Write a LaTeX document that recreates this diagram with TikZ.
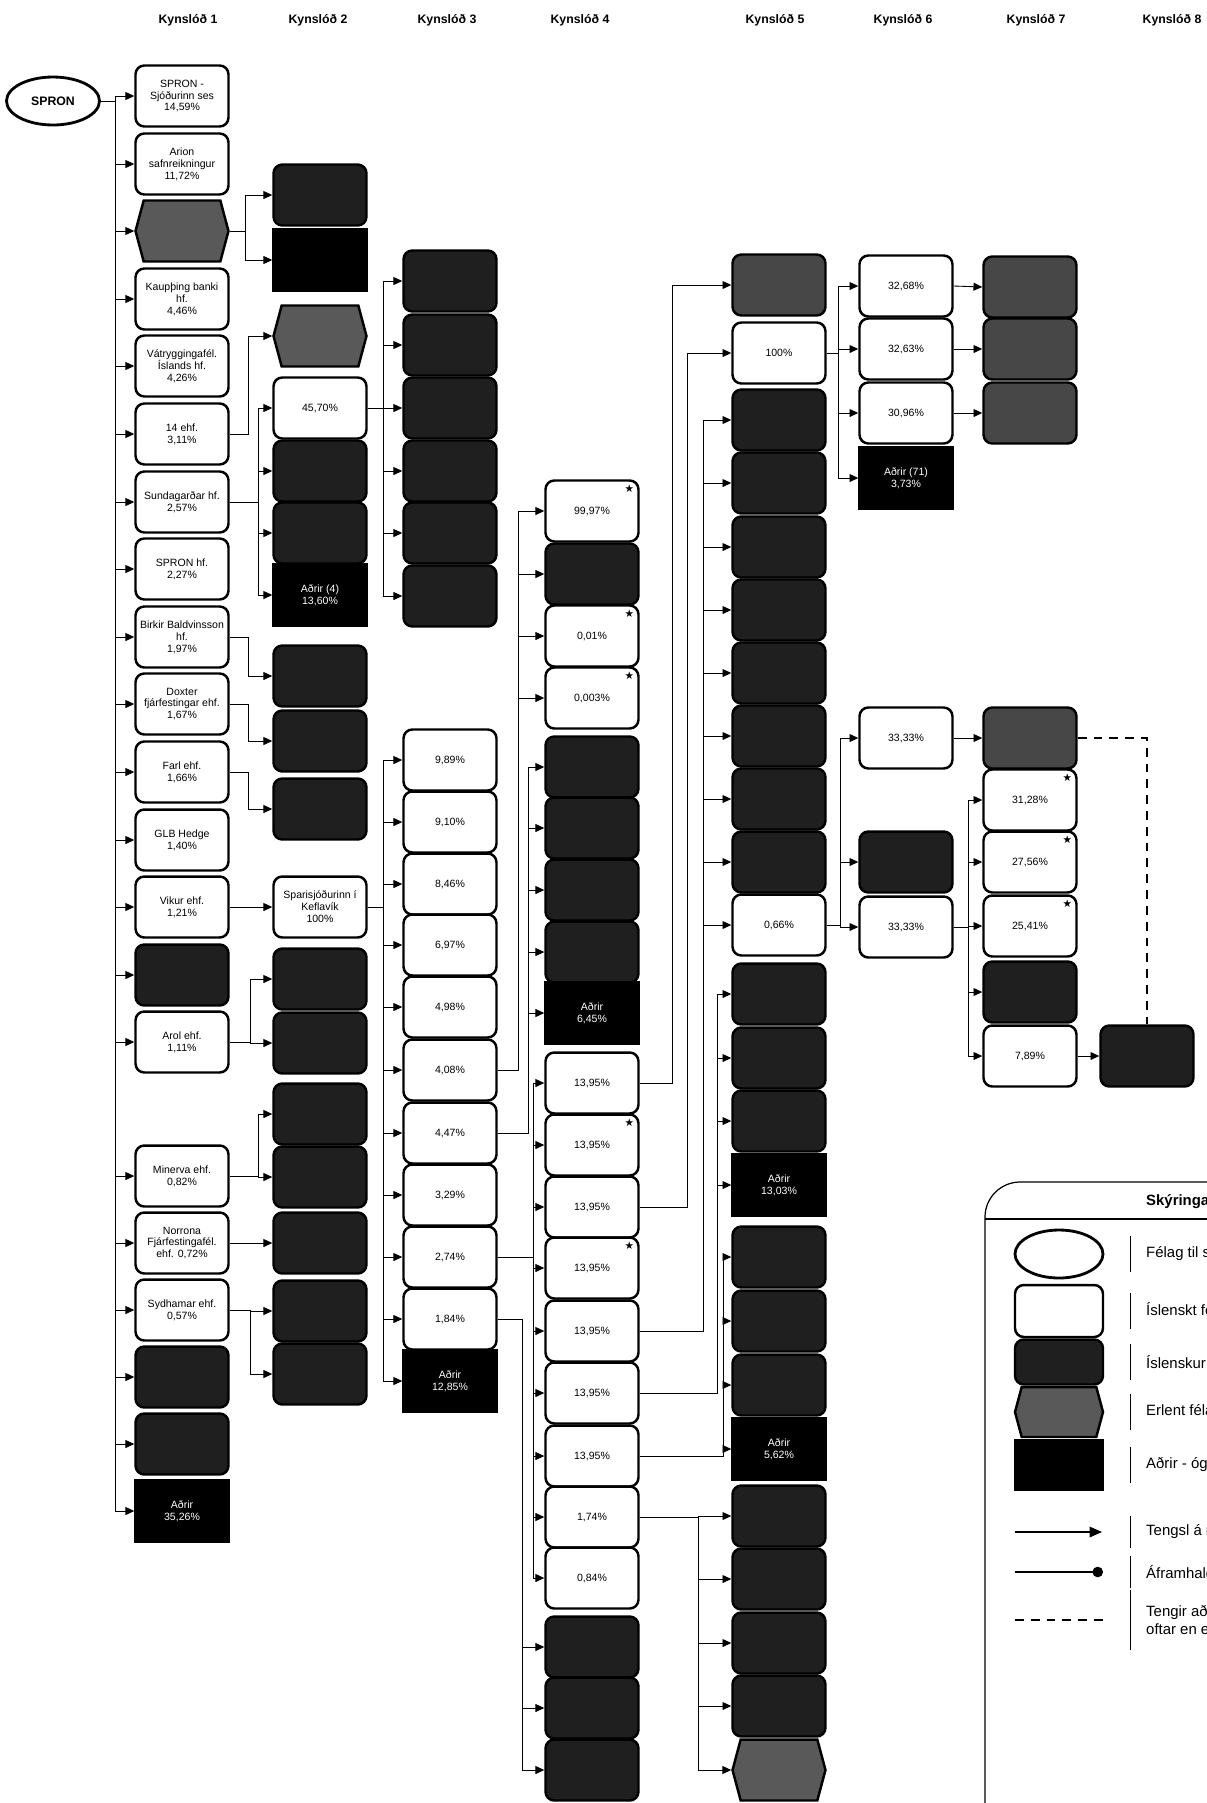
\documentclass[tikz,border=0pt]{standalone}
\usepackage{fontspec}
\setmainfont{Liberation Sans}
\newfontfamily\symfont{DejaVu Sans}
\usetikzlibrary{arrows.meta,shapes.geometric,shapes.symbols}

\begin{document}
\begin{tikzpicture}[
    x=0.02cm, y=-0.02cm,
    box/.style={minimum width=1.86cm, minimum height=1.22cm, inner sep=1pt, align=center, line width=1.4pt, font=\fontsize{6}{6.8}\selectfont},
    firm node/.style={box, draw=black, fill=white, rounded corners=5pt},
    person node/.style={box, draw=black, fill=black!88, text=white, rounded corners=5pt},
    grey node/.style={person node, fill=black!72},
    other node/.style={box, draw=black, fill=black, text=white},
    foreign node/.style={box, signal, signal to=east and west, signal pointer angle=150, draw=black, fill=black!65},
    target node/.style={ellipse, draw=black, fill=white, line width=1.6pt, minimum width=1.86cm, minimum height=0.96cm, font=\fontsize{7}{8}\selectfont\bfseries},
    head node/.style={font=\fontsize{7}{8}\selectfont\bfseries},
    starred/.style={label={[anchor=north east, xshift=-2pt, yshift=-2pt, inner sep=1pt, font=\symfont\fontsize{6}{6}\selectfont]north east:★}},
    link/.style={-{Triangle[length=5pt, width=4.5pt]}, line width=0.5pt},
    bond/.style={line width=1pt, dash pattern=on 5pt off 4pt},
    key text/.style={anchor=west, font=\fontsize{8.5}{10}\selectfont, align=left}
]
\useasboundingbox (0,0) rectangle (1207,1803);
\clip (0,0) rectangle (1207,1803);

% fyrirsagnir
\foreach \n/\x in {1/188, 2/318, 3/447, 4/580, 5/775, 6/903, 7/1036, 8/1172}
    \node[head node] (h\n) at (\x,20) {Kynslóð \n};

\node[target node] (spron) at (53,101) {SPRON};

% Kynslóð 1
\node[firm node]    (k1-1)  at (182,96)   {SPRON -\\Sjóðurinn ses\\14,59\%};
\node[firm node]    (k1-2)  at (182,164)  {Arion\\safnreikningur\\11,72\%};
\node[foreign node] (k1-3)  at (182,231)  {};
\node[firm node]    (k1-4)  at (182,299)  {Kaupþing banki\\hf.\\4,46\%};
\node[firm node]    (k1-5)  at (182,366)  {Vátryggingafél.\\Íslands hf.\\4,26\%};
\node[firm node]    (k1-6)  at (182,434)  {14 ehf.\\3,11\%};
\node[firm node]    (k1-7)  at (182,502)  {Sundagarðar hf.\\2,57\%};
\node[firm node]    (k1-8)  at (182,569)  {SPRON hf.\\2,27\%};
\node[firm node]    (k1-9)  at (182,637)  {Birkir Baldvinsson\\hf.\\1,97\%};
\node[firm node]    (k1-10) at (182,704)  {Doxter\\fjárfestingar ehf.\\1,67\%};
\node[firm node]    (k1-11) at (182,772)  {Farl ehf.\\1,66\%};
\node[firm node]    (k1-12) at (182,840)  {GLB Hedge\\1,40\%};
\node[firm node]    (k1-13) at (182,907)  {Vikur ehf.\\1,21\%};
\node[person node]  (k1-14) at (182,975)  {};
\node[firm node]    (k1-15) at (182,1042) {Arol ehf.\\1,11\%};
\node[firm node]    (k1-16) at (182,1176) {Minerva ehf.\\0,82\%};
\node[firm node]    (k1-17) at (182,1243) {Norrona\\Fjárfestingafél.\\ehf. 0,72\%};
\node[firm node]    (k1-18) at (182,1310) {Sydhamar ehf.\\0,57\%};
\node[person node]  (k1-19) at (182,1377) {};
\node[person node]  (k1-20) at (182,1444) {};
\node[other node]   (k1-21) at (182,1511) {Aðrir\\35,26\%};

% Kynslóð 2
\node[person node]  (k2-1)  at (320,195)  {};
\node[other node]   (k2-2)  at (320,260)  {};
\node[foreign node] (k2-3)  at (320,336)  {};
\node[firm node]    (k2-4)  at (320,408)  {45,70\%};
\node[person node]  (k2-5)  at (320,471)  {};
\node[person node]  (k2-6)  at (320,533)  {};
\node[other node]   (k2-7)  at (320,595)  {Aðrir (4)\\13,60\%};
\node[person node]  (k2-8)  at (320,676)  {};
\node[person node]  (k2-9)  at (320,741)  {};
\node[person node]  (k2-10) at (320,809)  {};
\node[firm node]    (k2-11) at (320,907)  {Sparisjóðurinn í\\Keflavík\\100\%};
\node[person node]  (k2-12) at (320,979)  {};
\node[person node]  (k2-13) at (320,1043) {};
\node[person node]  (k2-14) at (320,1114) {};
\node[person node]  (k2-15) at (320,1177) {};
\node[person node]  (k2-16) at (320,1243) {};
\node[person node]  (k2-17) at (320,1311) {};
\node[person node]  (k2-18) at (320,1374) {};

% Kynslóð 3
\node[person node]  (k3-1)  at (450,281)  {};
\node[person node]  (k3-2)  at (450,345)  {};
\node[person node]  (k3-3)  at (450,408)  {};
\node[person node]  (k3-4)  at (450,471)  {};
\node[person node]  (k3-5)  at (450,533)  {};
\node[person node]  (k3-6)  at (450,596)  {};
\node[firm node]    (k3-7)  at (450,760)  {9,89\%};
\node[firm node]    (k3-8)  at (450,822)  {9,10\%};
\node[firm node]    (k3-9)  at (450,884)  {8,46\%};
\node[firm node]    (k3-10) at (450,945)  {6,97\%};
\node[firm node]    (k3-11) at (450,1007) {4,98\%};
\node[firm node]    (k3-12) at (450,1070) {4,08\%};
\node[firm node]    (k3-13) at (450,1133) {4,47\%};
\node[firm node]    (k3-14) at (450,1195) {3,29\%};
\node[firm node]    (k3-15) at (450,1257) {2,74\%};
\node[firm node]    (k3-16) at (450,1319) {1,84\%};
\node[other node]   (k3-17) at (450,1381) {Aðrir\\12,85\%};

% Kynslóð 4
\node[firm node, starred] (k4-1)  at (592,511)  {99,97\%};
\node[person node]        (k4-2)  at (592,574)  {};
\node[firm node, starred] (k4-3)  at (592,636)  {0,01\%};
\node[firm node, starred] (k4-4)  at (592,698)  {0,003\%};
\node[person node]        (k4-5)  at (592,767)  {};
\node[person node]        (k4-6)  at (592,828)  {};
\node[person node]        (k4-7)  at (592,890)  {};
\node[person node]        (k4-8)  at (592,952)  {};
\node[other node]         (k4-9)  at (592,1013) {Aðrir\\6,45\%};
\node[firm node]          (k4-10) at (592,1083) {13,95\%};
\node[firm node, starred] (k4-11) at (592,1145) {13,95\%};
\node[firm node]          (k4-12) at (592,1207) {13,95\%};
\node[firm node, starred] (k4-13) at (592,1268) {13,95\%};
\node[firm node]          (k4-14) at (592,1331) {13,95\%};
\node[firm node]          (k4-15) at (592,1393) {13,95\%};
\node[firm node]          (k4-16) at (592,1456) {13,95\%};
\node[firm node]          (k4-17) at (592,1517) {1,74\%};
\node[firm node]          (k4-18) at (592,1578) {0,84\%};
\node[person node]        (k4-19) at (592,1647) {};
\node[person node]        (k4-20) at (592,1708) {};
\node[person node]        (k4-21) at (592,1770) {};

% Kynslóð 5
\node[grey node]    (k5-1)  at (779,285)  {};
\node[firm node]    (k5-2)  at (779,353)  {100\%};
\foreach \i/\y in {3/420, 4/483, 5/547, 6/610, 7/673, 8/736, 9/799, 10/862}
    \node[person node] (k5-\i) at (779,\y) {};
\node[firm node]    (k5-11) at (779,925)  {0,66\%};
\node[person node]  (k5-12) at (779,994)  {};
\node[person node]  (k5-13) at (779,1058) {};
\node[person node]  (k5-14) at (779,1121) {};
\node[other node]   (k5-15) at (779,1185) {Aðrir\\13,03\%};
\node[person node]  (k5-16) at (779,1257) {};
\node[person node]  (k5-17) at (779,1321) {};
\node[person node]  (k5-18) at (779,1385) {};
\node[other node]   (k5-19) at (779,1449) {Aðrir\\5,62\%};
\node[person node]  (k5-20) at (779,1516) {};
\node[person node]  (k5-21) at (779,1579) {};
\node[person node]  (k5-22) at (779,1643) {};
\node[person node]  (k5-23) at (779,1706) {};
\node[foreign node] (k5-24) at (779,1770) {};

% Kynslóð 6
\node[firm node]    (k6-1) at (906,286) {32,68\%};
\node[firm node]    (k6-2) at (906,349) {32,63\%};
\node[firm node]    (k6-3) at (906,413) {30,96\%};
\node[other node]   (k6-4) at (906,478) {Aðrir (71)\\3,73\%};
\node[firm node]    (k6-5) at (906,738) {33,33\%};
\node[person node]  (k6-6) at (906,862) {};
\node[firm node]    (k6-7) at (906,927) {33,33\%};

% Kynslóð 7 og 8
\node[grey node]          (k7-1) at (1030,287)  {};
\node[grey node]          (k7-2) at (1030,349)  {};
\node[grey node]          (k7-3) at (1030,413)  {};
\node[grey node]          (k7-4) at (1030,738)  {};
\node[firm node, starred] (k7-5) at (1030,800)  {31,28\%};
\node[firm node, starred] (k7-6) at (1030,862)  {27,56\%};
\node[firm node, starred] (k7-7) at (1030,926)  {25,41\%};
\node[person node]        (k7-8) at (1030,992)  {};
\node[firm node]          (k7-9) at (1030,1056) {7,89\%};
\node[person node]        (k8-1) at (1147,1056) {};

% stofnar
\coordinate (bA) at (115,0);
\coordinate (bB) at (245,0);
\coordinate (bC) at (248,0);
\coordinate (bD) at (258,0);
\coordinate (bE) at (250,0);
\coordinate (bF) at (383,0);
\coordinate (bG) at (518,0);
\coordinate (bH) at (528,0);
\coordinate (bI) at (533,0);
\coordinate (bJ) at (522,0);
\coordinate (bK) at (672,0);
\coordinate (bL) at (687,0);
\coordinate (bM) at (703,0);
\coordinate (bN) at (717,0);
\coordinate (bO) at (723,0);
\coordinate (bP) at (698,0);
\coordinate (bQ) at (838,0);
\coordinate (bR) at (840,0);
\coordinate (bS) at (968,0);

% tengsl
\foreach \t in {1,...,21}
    \draw[link] (spron.east) -| (bA |- k1-\t.west) -- (k1-\t.west);
\foreach \t in {1,2}
    \draw[link] (k1-3.east) -| (bB |- k2-\t.west) -- (k2-\t.west);
\draw[link] (k1-6.east) -| (bC |- k2-3.west) -- (k2-3.west);
\foreach \t in {4,...,7}
    \draw[link] (k1-7.east) -| (bD |- k2-\t.west) -- (k2-\t.west);
\draw[link] (k1-9.east) -| (bC |- k2-8.west) -- (k2-8.west);
\draw[link] (k1-10.east) -| (bC |- k2-9.west) -- (k2-9.west);
\draw[link] (k1-11.east) -| (bC |- k2-10.west) -- (k2-10.west);
\draw[link] (k1-13.east) -- (k2-11.west);
\foreach \t in {12,13}
    \draw[link] (k1-15.east) -| (bE |- k2-\t.west) -- (k2-\t.west);
\foreach \t in {14,15}
    \draw[link] (k1-16.east) -| (bD |- k2-\t.west) -- (k2-\t.west);
\draw[link] (k1-17.east) -- (k2-16.west);
\foreach \t in {17,18}
    \draw[link] (k1-18.east) -| (bE |- k2-\t.west) -- (k2-\t.west);

\foreach \t in {1,...,6}
    \draw[link] (k2-4.east) -| (bF |- k3-\t.west) -- (k3-\t.west);
\foreach \t in {7,...,17}
    \draw[link] (k2-11.east) -| (bF |- k3-\t.west) -- (k3-\t.west);

\foreach \t in {1,...,4}
    \draw[link] (k3-12.east) -| (bG |- k4-\t.west) -- (k4-\t.west);
\foreach \t in {5,...,9}
    \draw[link] (k3-13.east) -| (bH |- k4-\t.west) -- (k4-\t.west);
\foreach \t in {10,...,18}
    \draw[link] (k3-15.east) -| (bI |- k4-\t.west) -- (k4-\t.west);
\foreach \t in {19,20,21}
    \draw[link] (k3-16.east) -| (bJ |- k4-\t.west) -- (k4-\t.west);

\draw[link] (k4-10.east) -| (bK |- k5-1.west) -- (k5-1.west);
\draw[link] (k4-12.east) -| (bL |- k5-2.west) -- (k5-2.west);
\foreach \t in {3,...,11}
    \draw[link] (k4-14.east) -| (bM |- k5-\t.west) -- (k5-\t.west);
\foreach \t in {12,...,15}
    \draw[link] (k4-15.east) -| (bN |- k5-\t.west) -- (k5-\t.west);
\foreach \t in {16,...,19}
    \draw[link] (k4-16.east) -| (bO |- k5-\t.west) -- (k5-\t.west);
\foreach \t in {20,...,24}
    \draw[link] (k4-17.east) -| (bP |- k5-\t.west) -- (k5-\t.west);

\foreach \t in {1,...,4}
    \draw[link] (k5-2.east) -| (bQ |- k6-\t.west) -- (k6-\t.west);
\foreach \t in {5,6,7}
    \draw[link] (k5-11.east) -| (bR |- k6-\t.west) -- (k6-\t.west);
\foreach \t in {1,2,3}
    \draw[link] (k6-\t.east) -- (k7-\t.west);
\draw[link] (k6-5.east) -- (k7-4.west);
\foreach \t in {5,...,9}
    \draw[link] (k6-7.east) -| (bS |- k7-\t.west) -- (k7-\t.west);
\draw[link] (k7-9.east) -- (k8-1.west);
\draw[bond] (k7-4.east) -| (k8-1.north);

% Skýringar
\draw[line width=0.7pt, rounded corners=20pt] (985,1820) -- (985,1182) -- (1230,1182);
\draw[line width=0.7pt] (985,1219) -- (1230,1219);
\node[anchor=west, font=\fontsize{8.5}{10}\selectfont\bfseries] (keyhead) at (1140,1202) {Skýringar};
\node[target node, minimum width=1.76cm, minimum height=0.96cm] (key1) at (1059,1254) {};
\node[firm node, minimum width=1.76cm, minimum height=1.04cm]    (key2) at (1059,1311) {};
\node[person node, minimum width=1.76cm, minimum height=0.9cm]   (key3) at (1059,1362) {};
\node[foreign node, minimum width=1.76cm, minimum height=1cm]    (key4) at (1059,1412) {};
\node[other node, minimum width=1.76cm, minimum height=1cm]      (key5) at (1059,1465) {};
\coordinate (key6a) at (1015,1532); \coordinate (key6b) at (1102,1532);
\coordinate (key7a) at (1015,1572); \coordinate (key7b) at (1103,1572);
\coordinate (key8a) at (1015,1620); \coordinate (key8b) at (1103,1620);
\draw[-{Triangle[length=7pt, width=6pt]}, line width=0.6pt] (key6a) -- (key6b);
\draw[-{Circle[length=6pt]}, line width=0.6pt] (key7a) -- (key7b);
\draw[bond, line width=0.8pt] (key8a) -- (key8b);
\foreach \y/\h in {1254/18, 1311/18, 1362/18, 1412/18, 1465/18, 1532/16, 1572/16, 1620/30}
    \draw[line width=0.5pt] (1130,\y-\h) -- (1130,\y+\h);
\node[key text] (kt1) at (1140,1254) {Félag til skoðunar};
\node[key text] (kt2) at (1140,1311) {Íslenskt félag};
\node[key text] (kt3) at (1140,1362) {Íslenskur aðili};
\node[key text] (kt4) at (1140,1412) {Erlent félag};
\node[key text] (kt5) at (1140,1465) {Aðrir - ógreindir};
\node[key text] (kt6) at (1140,1532) {Tengsl á milli};
\node[key text] (kt7) at (1140,1572) {Áframhald};
\node[key text] (kt8) at (1140,1620) {Tengir aðila sem\\oftar en einu sinni};

\end{tikzpicture}
\end{document}
